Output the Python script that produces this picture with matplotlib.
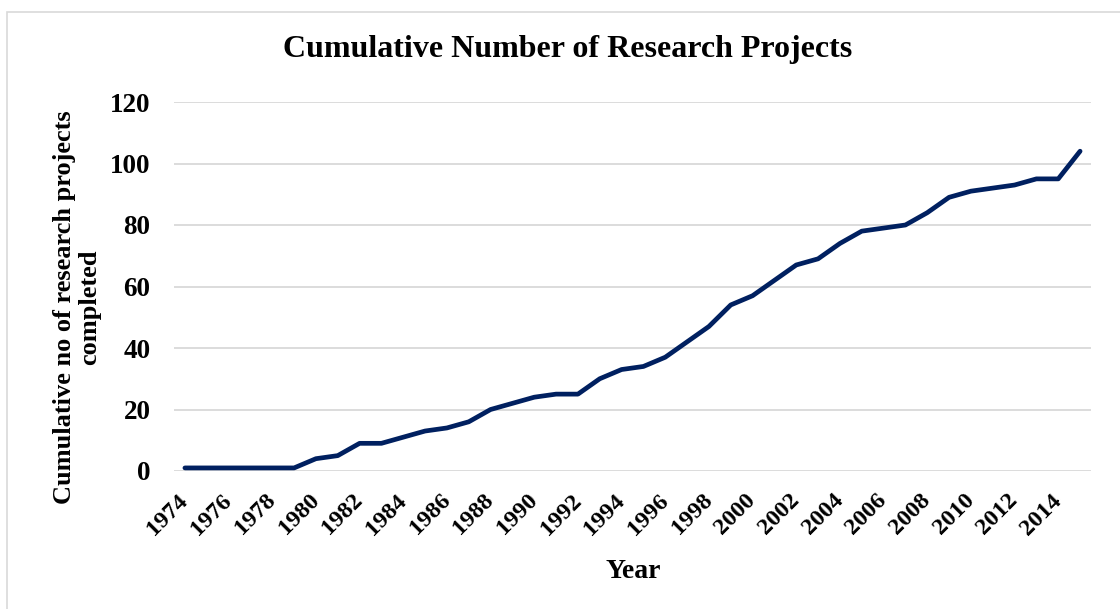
import matplotlib.pyplot as plt
from matplotlib.patches import Rectangle

years = list(range(1974, 2016))
projects = [1, 1, 1, 1, 1, 1, 4, 5, 9, 9,
            11, 13, 14, 16, 20, 22, 24, 25, 25, 30,
            33, 34, 37, 42, 47, 54, 57, 62, 67, 69,
            74, 78, 79, 80, 84, 89, 91, 92, 93, 95,
            95, 104]
y_ticks = [0, 20, 40, 60, 80, 100, 120]

plt.rcParams['font.family'] = ['Liberation Serif', 'DejaVu Serif']
plt.rcParams['font.weight'] = 'bold'

fig = plt.figure(figsize=(11.2, 6.09), dpi=100)

# light chart-area border (cut off at right and bottom like the reference)
fig.patches.append(Rectangle((7 / 1120, -0.1), 1.2, (609 - 12) / 609 + 0.1,
                             transform=fig.transFigure, fill=False,
                             edgecolor='#D9D9D9', linewidth=1.2))

ax = fig.add_axes([174 / 1120, (609 - 471) / 609, (1091 - 174) / 1120, (471 - 102) / 609])

idx = list(range(len(years)))
ax.plot(idx, projects, color='#002060', linewidth=3.4, solid_capstyle='round',
        solid_joinstyle='round', zorder=3)

ax.set_xlim(-0.5, len(years) - 0.5)
ax.set_ylim(0, 120)
ax.set_yticks(y_ticks)
ax.grid(axis='y', color='#D9D9D9', linewidth=1.3)
ax.set_axisbelow(True)
for s in ax.spines.values():
    s.set_visible(False)

ax.set_xticks(idx[::2])
ax.set_xticklabels([str(y) for y in years[::2]], rotation=45, ha='right',
                   va='center', rotation_mode='anchor', fontsize=17.5, fontweight='bold')
ax.tick_params(axis='x', length=0, pad=19)
ax.tick_params(axis='y', length=0, pad=17, labelsize=19.5)
for lab in ax.get_yticklabels():
    lab.set_fontweight('bold')

fig.text(568 / 1120, (609 - 50) / 609, 'Cumulative Number of Research Projects',
         ha='center', va='center', fontsize=23, fontweight='bold')
fig.text(633 / 1120, (609 - 572) / 609, 'Year', ha='center', va='center',
         fontsize=20, fontweight='bold')
fig.text(77 / 1120, (609 - 307) / 609, 'Cumulative no of research projects\ncompleted',
         ha='center', va='center', rotation=90, multialignment='center',
         fontsize=19, fontweight='bold', linespacing=1.1)

fig.savefig('out.png', dpi=100)
